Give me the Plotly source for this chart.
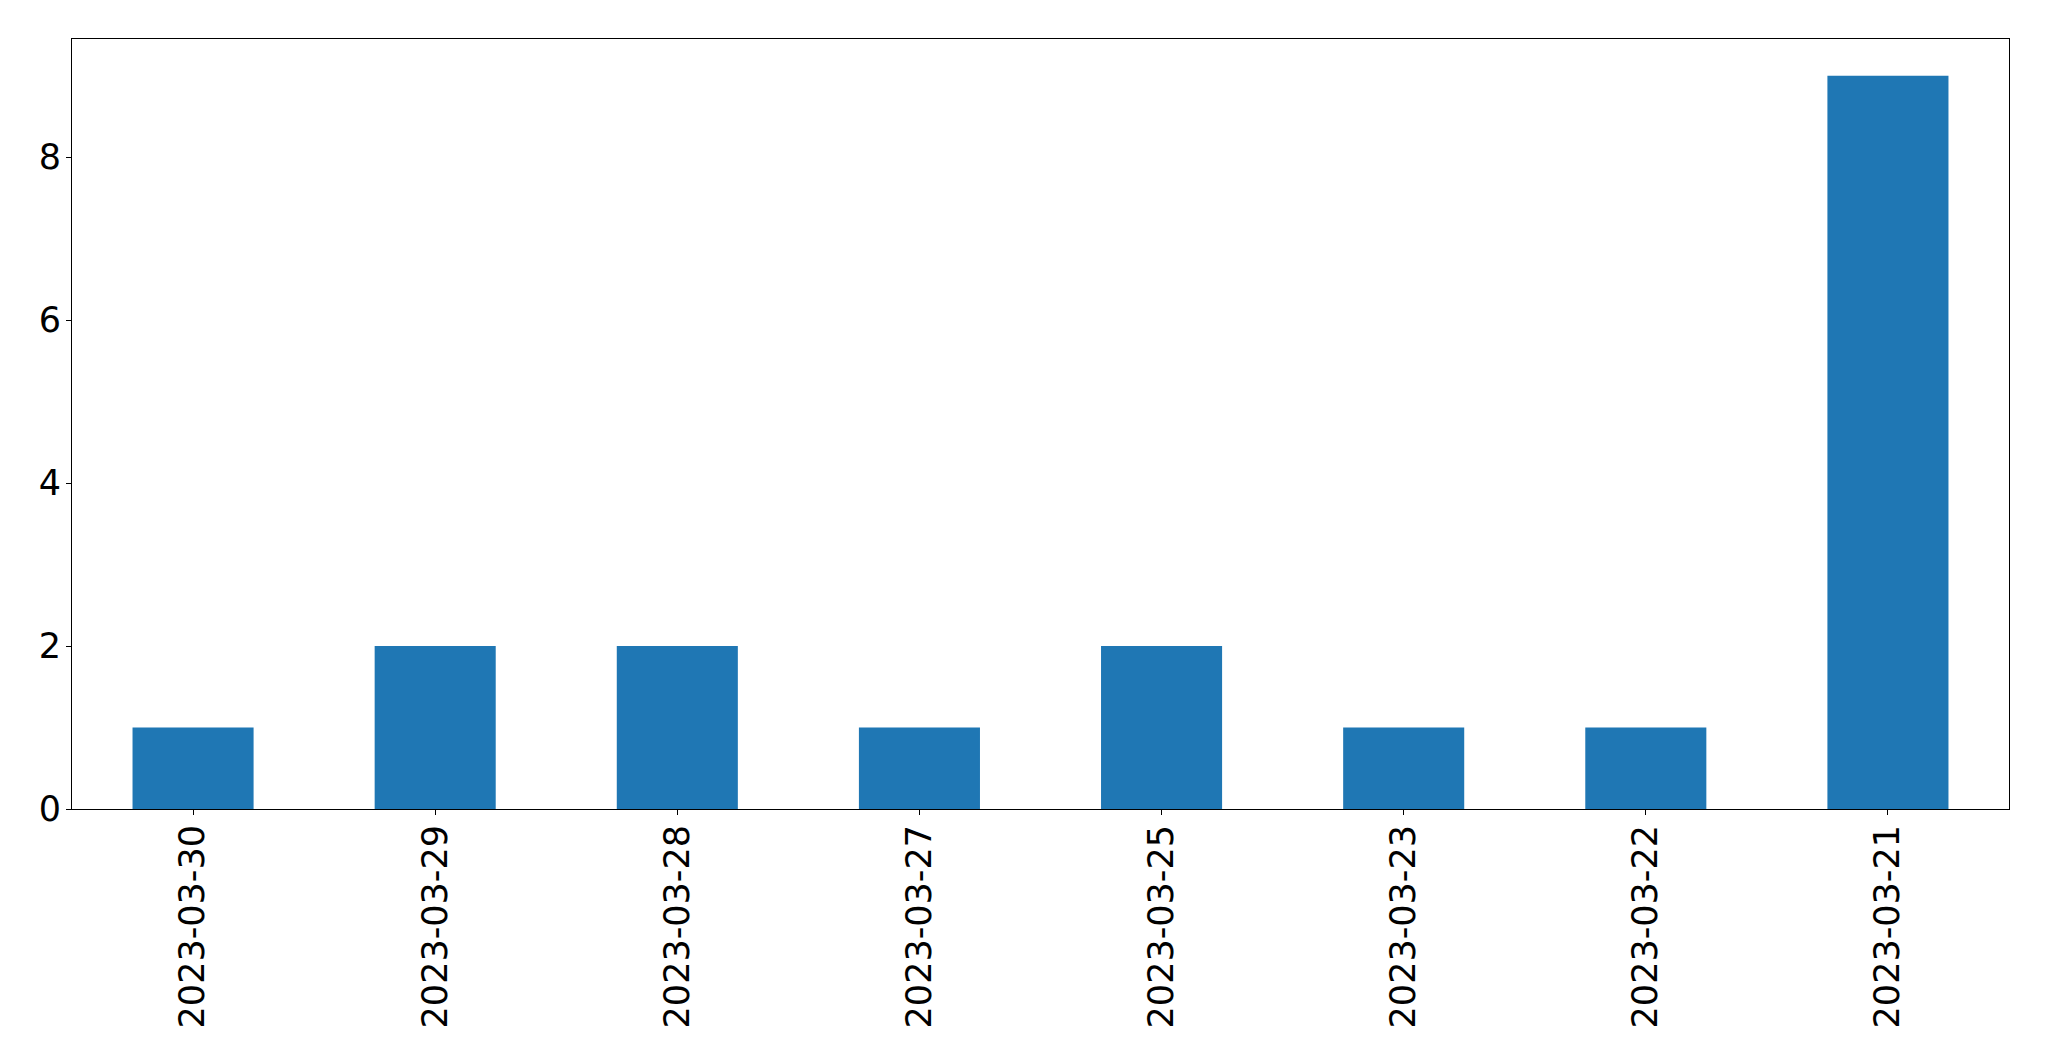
import plotly.graph_objects as go

categories = ["2023-03-30", "2023-03-29", "2023-03-28", "2023-03-27",
              "2023-03-25", "2023-03-23", "2023-03-22", "2023-03-21"]
values = [1, 2, 2, 1, 2, 1, 1, 9]
y_ticks = [0, 2, 4, 6, 8]

fig = go.Figure(go.Bar(x=categories, y=values, width=0.5,
                       marker=dict(color="#1f77b4", line=dict(width=0))))

font = dict(family="DejaVu Sans", size=35, color="black")
fig.update_layout(
    width=2041, height=1053,
    margin=dict(l=64, r=40, t=31, b=252),
    paper_bgcolor="white", plot_bgcolor="white",
    showlegend=False,
    font=font,
)
fig.update_xaxes(type="category", range=[-0.5, 7.5], tickangle=-90,
                 showline=True, linecolor="black", linewidth=1, mirror=True,
                 ticks="outside", ticklen=5, tickwidth=1, tickcolor="black",
                 showgrid=False, zeroline=False, tickfont=font,
                 ticklabelstandoff=-4)
fig.update_yaxes(range=[0, 9.45], tickvals=y_ticks, ticktext=[str(v) for v in y_ticks],
                 showline=True, linecolor="black", linewidth=1, mirror=True,
                 ticks="outside", ticklen=5, tickwidth=1, tickcolor="black",
                 showgrid=False, zeroline=False, tickfont=font,
                 ticklabelstandoff=-2)

fig.write_html("out.html")
